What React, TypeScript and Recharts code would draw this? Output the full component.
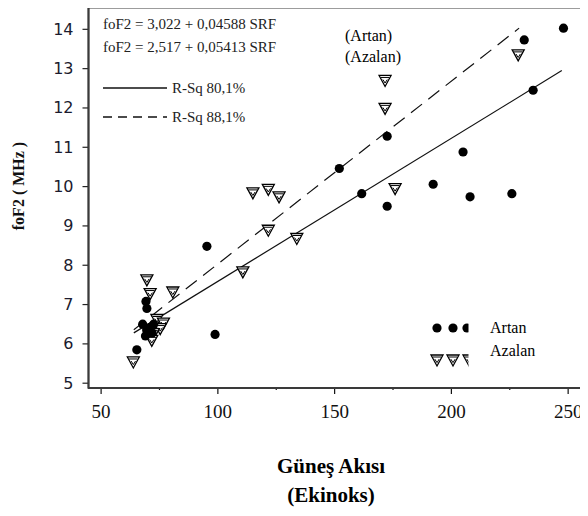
import React from 'react';
import { ScatterChart, Scatter, XAxis, YAxis } from 'recharts';

// Güneş akısı (SRF) ve foF2 değerleri — Artan (artan güneş aktivitesi)
const artanSrf = [248, 231.2, 235, 172.5, 152, 205, 192.2, 208, 225.9, 161.6, 172.5, 95.3, 98.8, 69.2, 69.6, 67.8, 69.5, 71, 71.8, 69, 72.5, 65.3];
const artanFof2 = [14.03, 13.73, 12.45, 11.28, 10.46, 10.88, 10.06, 9.74, 9.82, 9.82, 9.5, 8.48, 6.24, 7.08, 6.9, 6.5, 6.35, 6.42, 6.28, 6.2, 6.5, 5.85];

// Azalan
const azalanSrf = [228.6, 171.6, 171.6, 175.9, 115, 121.6, 126.2, 121.6, 133.8, 110.7, 69.6, 71, 80.7, 73.9, 76.7, 75.3, 72.4, 71.7, 63.8];
const azalanFof2 = [13.35, 12.7, 11.99, 9.95, 9.84, 9.93, 9.74, 8.89, 8.68, 7.83, 7.63, 7.28, 7.32, 6.62, 6.53, 6.39, 6.26, 6.09, 5.54];

// Regression lines (end points)
const solidSrf = [64, 247.3];
const solidFof2 = [6.28, 12.95];
const dashedSrf = [64, 229];
const dashedFof2 = [6.36, 14.03];

const xTicks = [50, 75, 100, 125, 150, 175, 200, 225, 250];
const xMajor = [50, 100, 150, 200, 250];
const yTicks = [5, 6, 7, 8, 9, 10, 11, 12, 13, 14];

const eq1 = 'foF2 =  3,022 + 0,04588 SRF';
const eq2 = 'foF2 =  2,517 + 0,05413 SRF';
const rsq1 = 'R-Sq  80,1%';
const rsq2 = 'R-Sq  88,1%';
const xTitle1 = 'Güneş Akısı';
const xTitle2 = '(Ekinoks)';
const yTitle = 'foF2 ( MHz )';

const X_DOMAIN: [number, number] = [44.6, 261.5];
const Y_DOMAIN: [number, number] = [4.878, 14.555];

const toPts = (xs: number[], ys: number[]) => xs.map((x, i) => ({ x, y: ys[i] }));
const artanData = toPts(artanSrf, artanFof2);
const azalanData = toPts(azalanSrf, azalanFof2);
const solidData = toPts(solidSrf, solidFof2);
const dashedData = toPts(dashedSrf, dashedFof2);

const AzalanMark = ({ cx, cy }: { cx: number; cy: number }) => (
  <g transform={`translate(${cx},${cy})`}>
    <path d="M-6,-5 L6,-5 L0,6 Z" fill="#fff" stroke="#000" strokeWidth={1.3} />
    <path d="M-4.3,-3 L4.3,-3" stroke="#000" strokeWidth={1} />
    <path d="M-2.2,-0.9 L0,2.6 L2.2,-0.9" fill="none" stroke="#000" strokeWidth={1} />
  </g>
);

const ArtanMark = ({ cx, cy }: { cx: number; cy: number }) => (
  <circle cx={cx} cy={cy} r={4.6} fill="#000" />
);

const XTick = (props: any) => {
  const { x, y, payload } = props;
  const major = xMajor.includes(payload.value);
  return (
    <g>
      <line x1={x} x2={x} y1={y} y2={y + (major ? 6 : 2)} stroke="#111" strokeWidth={1.2} />
      {major && (
        <text x={x} y={y + 30} textAnchor="middle" fontFamily="Liberation Serif" fontSize={19} fill="#111">
          {payload.value}
        </text>
      )}
    </g>
  );
};

const YTick = (props: any) => {
  const { x, y, payload } = props;
  return (
    <g>
      <line x1={x - 6} x2={x} y1={y} y2={y} stroke="#222" strokeWidth={1.2} />
      <text x={x - 15} y={y} textAnchor="end" dominantBaseline="central" fontFamily="DejaVu Sans" fontSize={16} fill="#1b1b2e">
        {payload.value}
      </text>
    </g>
  );
};

const serif = 'Liberation Serif';
const frame = { stroke: '#3a3a3a', strokeWidth: 1.8 };

export default function App() {
  return (
    <div style={{ position: 'relative', width: 588, height: 516, overflow: 'hidden', margin: -8, background: '#fff' }}>
      <ScatterChart width={600} height={516} margin={{ top: 7.5, right: 5, bottom: 98, left: 0 }}>
        <XAxis
          type="number"
          dataKey="x"
          domain={X_DOMAIN}
          ticks={xTicks}
          allowDataOverflow
          height={30}
          tickSize={0}
          tickMargin={0}
          tick={<XTick />}
          axisLine={frame}
          tickLine={false}
          interval={0}
        />
        <YAxis
          type="number"
          dataKey="y"
          domain={Y_DOMAIN}
          ticks={yTicks}
          allowDataOverflow
          width={88.5}
          tickSize={0}
          tickMargin={0}
          tick={<YTick />}
          axisLine={frame}
          tickLine={false}
          interval={0}
        />
        <Scatter data={solidData} line={{ stroke: '#111', strokeWidth: 1.2 }} shape={() => <g />} isAnimationActive={false} />
        <Scatter data={dashedData} line={{ stroke: '#111', strokeWidth: 1.2, strokeDasharray: '14 8' }} shape={() => <g />} isAnimationActive={false} />
        <Scatter data={azalanData} shape={(p: any) => <AzalanMark cx={p.cx} cy={p.cy} />} isAnimationActive={false} />
        <Scatter data={artanData} shape={(p: any) => <ArtanMark cx={p.cx} cy={p.cy} />} isAnimationActive={false} />
      </ScatterChart>
      <svg width={588} height={516} style={{ position: 'absolute', left: 0, top: 0, pointerEvents: 'none' }}>
        <g stroke="#3a3a3a" fill="none">
          <line x1={88.5} x2={588} y1={7.5} y2={7.5} strokeWidth={2} />
          <line x1={88.5} x2={88.5} y1={6.5} y2={389} strokeWidth={1.8} />
          <line x1={88.5} x2={588} y1={388} y2={388} strokeWidth={1.8} />
        </g>
        <g fontFamily={serif} fill="#222">
          <text x={103} y={29} fontSize={15}>{eq1}</text>
          <text x={103} y={52} fontSize={15}>{eq2}</text>
          <line x1={103} x2={167} y1={88} y2={88} stroke="#111" strokeWidth={1.3} />
          <text x={172} y={93} fontSize={15}>{rsq1}</text>
          <line x1={103} x2={167} y1={117} y2={117} stroke="#111" strokeWidth={1.3} strokeDasharray="9 6" />
          <text x={172} y={122} fontSize={15}>{rsq2}</text>
        </g>
        <g fontFamily={serif} fill="#000" fontSize={16}>
          <text x={345} y={41}>(Artan)</text>
          <text x={345} y={62}>(Azalan)</text>
        </g>
        <g>
          <ArtanMark cx={437} cy={328} />
          <ArtanMark cx={453} cy={328} />
          <ArtanMark cx={467} cy={328} />
          <AzalanMark cx={437} cy={360} />
          <AzalanMark cx={453} cy={360} />
          <AzalanMark cx={469} cy={360} />
          <rect x={468.5} y={318} width={18} height={50} fill="#fff" />
          <text x={490} y={333} fontFamily={serif} fontSize={16} fill="#000">Artan</text>
          <text x={490} y={356} fontFamily={serif} fontSize={16} fill="#000">Azalan</text>
        </g>
        <text transform="translate(18,186) rotate(-90)" textAnchor="middle" dominantBaseline="central" fontFamily={serif} fontWeight="bold" fontSize={16} fill="#111">
          {yTitle}
        </text>
        <text x={331} y={473} textAnchor="middle" fontFamily={serif} fontWeight="bold" fontSize={21} fill="#000">{xTitle1}</text>
        <text x={331} y={502} textAnchor="middle" fontFamily={serif} fontWeight="bold" fontSize={21} fill="#000">{xTitle2}</text>
      </svg>
    </div>
  );
}
